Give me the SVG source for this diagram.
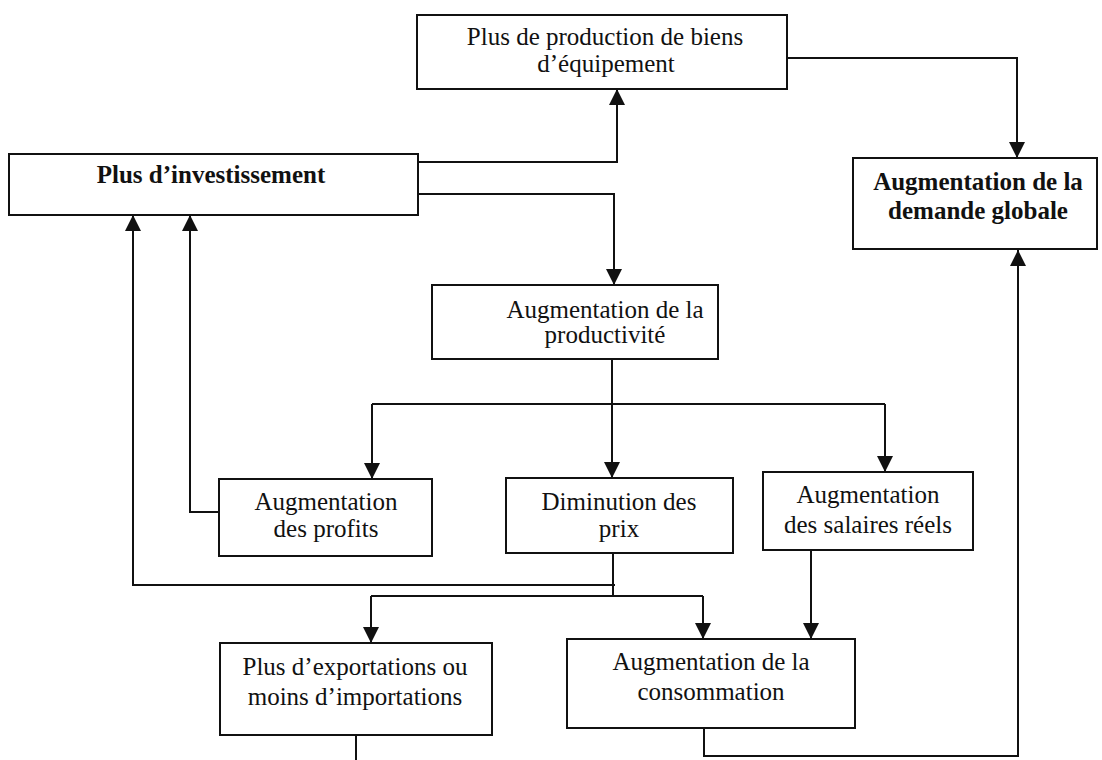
<svg xmlns="http://www.w3.org/2000/svg" width="1102" height="760" viewBox="0 0 1102 760">
<defs>
<style>
.box{fill:#fff;stroke:#111;stroke-width:2}
.t{font-family:"Liberation Serif","Times New Roman",serif;font-size:25px;fill:#111;text-anchor:middle}
.b{font-weight:bold}
.c{fill:none;stroke:#111;stroke-width:2}
</style>
<marker id="ah" viewBox="0 0 16 16" markerWidth="16" markerHeight="16" refX="16" refY="8" orient="auto" markerUnits="userSpaceOnUse">
<path d="M0,0 L16,8 L0,16 z" fill="#111"/>
</marker>
</defs>
<rect width="1102" height="760" fill="#fff"/>
<g id="connectors">
<path class="c" d="M418,162 H617 V89" marker-end="url(#ah)"/>
<path class="c" d="M418,194 H614 V285" marker-end="url(#ah)"/>
<path class="c" d="M787,58 H1017 V158" marker-end="url(#ah)"/>
<path class="c" d="M612,359 V478" marker-end="url(#ah)"/>
<path class="c" d="M372,404 H885"/>
<path class="c" d="M372,404 V479" marker-end="url(#ah)"/>
<path class="c" d="M885,404 V472" marker-end="url(#ah)"/>
<path class="c" d="M219,512 H190 V215" marker-end="url(#ah)"/>
<path class="c" d="M615,585 H133 V215" marker-end="url(#ah)"/>
<path class="c" d="M613,553 V596"/>
<path class="c" d="M371,596 H703"/>
<path class="c" d="M371,596 V643" marker-end="url(#ah)"/>
<path class="c" d="M703,596 V639" marker-end="url(#ah)"/>
<path class="c" d="M811,550 V639" marker-end="url(#ah)"/>
<path class="c" d="M356,735 V760"/>
<path class="c" d="M704,728 V756 H1018 V250" marker-end="url(#ah)"/>
</g>
<g id="n-production">
<rect class="box" x="417" y="15" width="370" height="74"/>
<text class="t" x="605" y="45">Plus de production de biens</text>
<text class="t" x="606" y="72">d’équipement</text>
</g>
<g id="n-investissement">
<rect class="box" x="9" y="154" width="409" height="61"/>
<text class="t b" x="211" y="183">Plus d’investissement</text>
</g>
<g id="n-demande">
<rect class="box" x="853" y="158" width="244" height="91"/>
<text class="t b" x="978" y="190">Augmentation de la</text>
<text class="t b" x="978" y="219">demande globale</text>
</g>
<g id="n-productivite">
<rect class="box" x="432" y="285" width="286" height="74"/>
<text class="t" x="605" y="318">Augmentation de la</text>
<text class="t" x="605" y="343">productivité</text>
</g>
<g id="n-profits">
<rect class="box" x="219" y="479" width="213" height="77"/>
<text class="t" x="326" y="510">Augmentation</text>
<text class="t" x="326" y="537">des profits</text>
</g>
<g id="n-prix">
<rect class="box" x="506" y="478" width="227" height="75"/>
<text class="t" x="619" y="510">Diminution des</text>
<text class="t" x="619" y="537">prix</text>
</g>
<g id="n-salaires">
<rect class="box" x="763" y="472" width="210" height="78"/>
<text class="t" x="868" y="503">Augmentation</text>
<text class="t" x="868" y="533">des salaires réels</text>
</g>
<g id="n-exportations">
<rect class="box" x="220" y="643" width="272" height="92"/>
<text class="t" x="355" y="675">Plus d’exportations ou</text>
<text class="t" x="355" y="705">moins d’importations</text>
</g>
<g id="n-consommation">
<rect class="box" x="567" y="639" width="288" height="89"/>
<text class="t" x="711" y="670">Augmentation de la</text>
<text class="t" x="711" y="700">consommation</text>
</g>
</svg>
